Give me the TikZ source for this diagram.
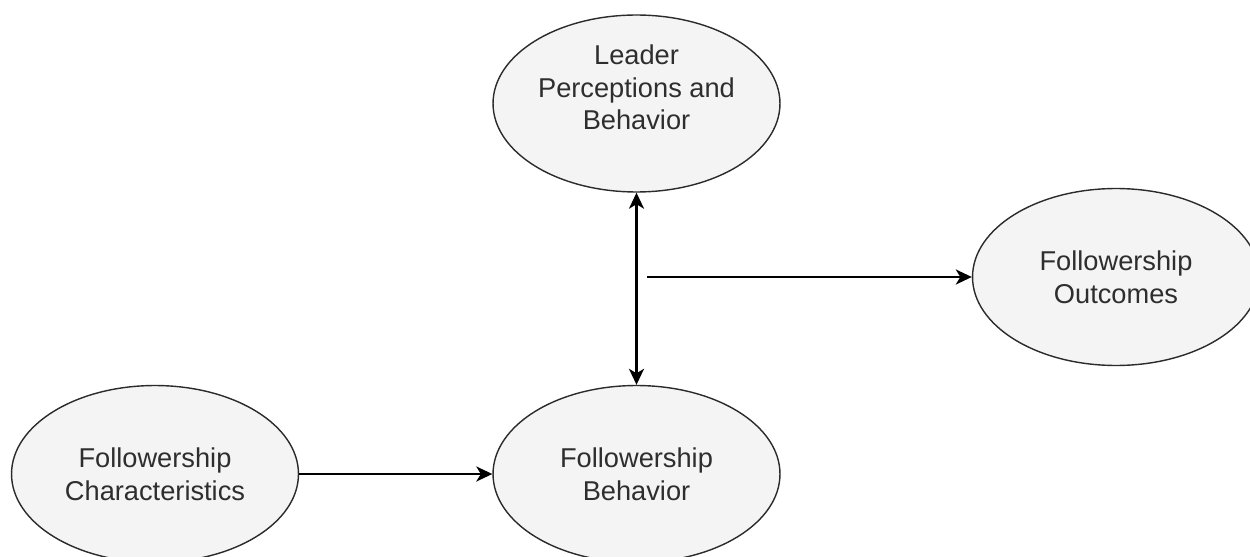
\documentclass[tikz,border=0pt]{standalone}
\usepackage{fontspec}
\setmainfont{Liberation Sans}
\usetikzlibrary{shapes.geometric,arrows.meta}

\definecolor{ovalfill}{HTML}{F4F4F4}
\definecolor{ovalline}{HTML}{2B2B2B}
\definecolor{ovaltext}{HTML}{2E2E2E}

\begin{document}
\begin{tikzpicture}[x=0.02cm, y=-0.02cm,
  >={Stealth[length=0.32cm, width=0.3cm, inset=0.09cm]},
  oval/.style={ellipse, draw=ovalline, fill=ovalfill, line width=0.8pt,
    minimum width=5.74cm, minimum height=3.54cm, inner sep=0pt,
    align=center, text=ovaltext, font=\fontsize{15.5}{18.6}\selectfont},
  link/.style={line width=1.4pt}]

\useasboundingbox (0,0) rectangle (1250,557);

\node[oval]  (leader)   at  (636.5, 103.5) {Leader\\Perceptions and\\Behavior\\\mbox{}};
\node[oval]  (outcomes) at  (1116, 277)    {Followership\\Outcomes};
\node[oval]  (chars)    at  (155, 474)     {Followership\\Characteristics};
\node[oval]  (behav)    at  (636.5, 474)   {Followership\\Behavior};

\coordinate (split) at (647, 277);

\draw  [link,<->]  (leader) -- (behav);
\draw  [link,->]   (split) -- (outcomes);
\draw  [link,->]   (chars) -- (behav);

\end{tikzpicture}
\end{document}
